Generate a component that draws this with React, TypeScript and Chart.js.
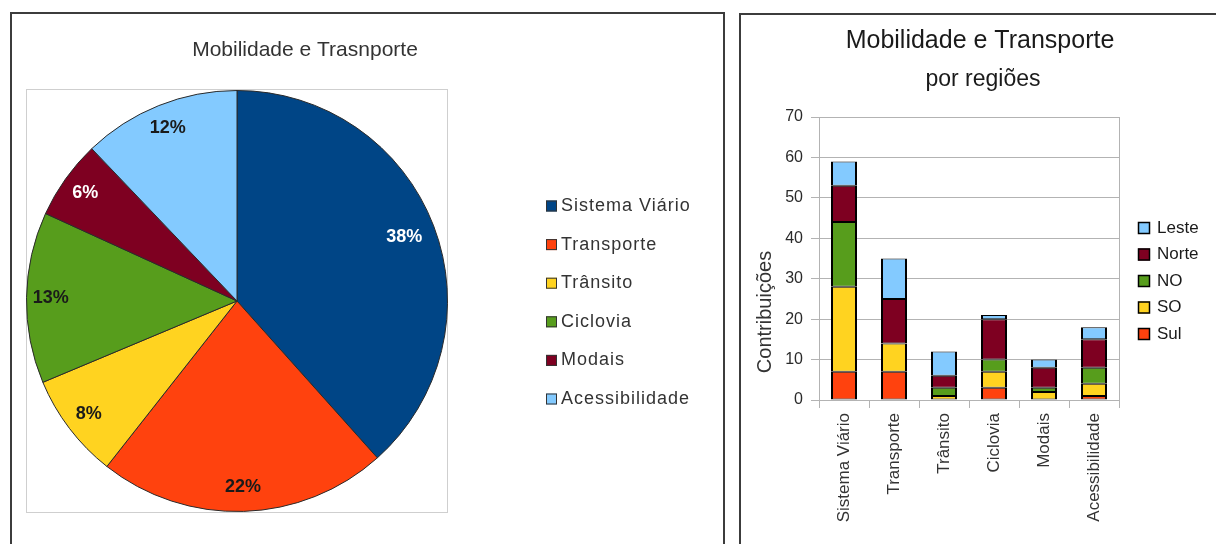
import React, { useEffect, useRef } from 'react';
import { Chart, registerables } from 'chart.js';
Chart.register(...registerables);

const FONT = "'Liberation Sans', Arial, Helvetica, sans-serif";

// ---- Left: pie chart ----
const pieTitle = 'Mobilidade e Trasnporte';
const pieLabels = ['Sistema Viário', 'Transporte', 'Trânsito', 'Ciclovia', 'Modais', 'Acessibilidade'];
const pieValues = [38, 22, 8, 13, 6, 12];
const pieColors = ['#004586', '#FF420E', '#FFD320', '#579D1C', '#7E0021', '#83CAFF'];
const pieLabelColors = ['#ffffff', '#1a1a1a', '#1a1a1a', '#1a1a1a', '#ffffff', '#1a1a1a'];

// ---- Right: stacked bars ----
const barTitle = 'Mobilidade e Transporte';
const barSubtitle = 'por regiões';
const barCategories = ['Sistema Viário', 'Transporte', 'Trânsito', 'Ciclovia', 'Modais', 'Acessibilidade'];
const yAxisTitle = 'Contribuições';
const yTicks = [0, 10, 20, 30, 40, 50, 60, 70];
const seriesNames = ['Sul', 'SO', 'NO', 'Norte', 'Leste'];
const sulValues = [7, 7, 0, 3, 0, 1];
const soValues = [21, 7, 1, 4, 2, 3];
const noValues = [16, 0, 2, 3, 1, 4];
const norteValues = [9, 11, 3, 10, 5, 7];
const lesteValues = [6, 10, 6, 1, 2, 3];
const seriesColors = ['#FF420E', '#FFD320', '#579D1C', '#7E0021', '#83CAFF'];

export default function App() {
  const pieRef = useRef<HTMLCanvasElement>(null);
  const barRef = useRef<HTMLCanvasElement>(null);

  useEffect(() => {
    Chart.defaults.font.family = FONT;

    const piePlugin = {
      id: 'pieDecor',
      beforeDraw(chart: any) {
        const ctx = chart.ctx;
        ctx.save();
        ctx.strokeStyle = '#cfcfcf';
        ctx.lineWidth = 1;
        ctx.strokeRect(26.5, 89.5, 421, 423);
        ctx.font = `21px ${FONT}`;
        ctx.fillStyle = '#333333';
        ctx.textAlign = 'center';
        ctx.textBaseline = 'middle';
        ctx.fillText(pieTitle, 305, 50);
        ctx.restore();
      },
      afterDatasetsDraw(chart: any) {
        const ctx = chart.ctx;
        const meta = chart.getDatasetMeta(0);
        const data = chart.data.datasets[0].data;
        meta.data.forEach((arc: any, i: number) => {
          const p = arc.getProps(['x', 'y', 'startAngle', 'endAngle', 'outerRadius'], true);
          const mid = (p.startAngle + p.endAngle) / 2;
          const r = p.outerRadius * (i === 0 ? 0.85 : 0.885);
          ctx.save();
          ctx.font = `bold 18px ${FONT}`;
          ctx.fillStyle = pieLabelColors[i];
          ctx.textAlign = 'center';
          ctx.textBaseline = 'middle';
          ctx.fillText(`${data[i]}%`, p.x + Math.cos(mid) * r, p.y + Math.sin(mid) * r);
          ctx.restore();
        });
        // legend
        const labels = chart.data.labels;
        const colors = chart.data.datasets[0].backgroundColor;
        labels.forEach((lab: string, i: number) => {
          const cy = 206 + i * 38.6;
          ctx.save();
          ctx.fillStyle = colors[i];
          ctx.fillRect(546, cy - 5.5, 11, 11);
          ctx.strokeStyle = '#333';
          ctx.lineWidth = 1;
          ctx.strokeRect(546.5, cy - 5, 10, 10);
          ctx.font = `18px ${FONT}`;
          (ctx as any).letterSpacing = '1px';
          ctx.fillStyle = '#333333';
          ctx.textAlign = 'left';
          ctx.textBaseline = 'middle';
          ctx.fillText(lab, 561, cy);
          ctx.restore();
        });
      },
    };

    const pie = new Chart(pieRef.current as HTMLCanvasElement, {
      type: 'pie',
      data: {
        labels: pieLabels,
        datasets: [
          {
            data: pieValues,
            backgroundColor: pieColors,
            borderColor: '#2a2a2a',
            borderWidth: 1,
          },
        ],
      },
      options: {
        responsive: false,
        animation: false,
        layout: { padding: { left: 26, right: 284, top: 90, bottom: 32 } },
        plugins: {
          legend: { display: false },
          title: { display: false },
          tooltip: { enabled: false },
        },
      },
      plugins: [piePlugin],
    } as any);

    const barPlugin = {
      id: 'barDecor',
      beforeDatasetsDraw(chart: any) {
        const ctx = chart.ctx;
        const a = chart.chartArea;
        ctx.save();
        ctx.strokeStyle = '#b3b3b3';
        ctx.lineWidth = 1;
        ctx.beginPath();
        ctx.moveTo(Math.round(a.right) + 0.5, a.top);
        ctx.lineTo(Math.round(a.right) + 0.5, a.bottom);
        ctx.stroke();
        ctx.restore();
      },
      afterDraw(chart: any) {
        const ctx = chart.ctx;
        ctx.save();
        ctx.fillStyle = '#1a1a1a';
        ctx.textAlign = 'center';
        ctx.textBaseline = 'middle';
        ctx.font = `25px ${FONT}`;
        ctx.fillText(barTitle, 239, 41);
        ctx.font = `23px ${FONT}`;
        ctx.fillText(barSubtitle, 242, 80);
        // y title
        ctx.save();
        ctx.translate(24, 312);
        ctx.rotate(-Math.PI / 2);
        ctx.font = `20px ${FONT}`;
        ctx.fillStyle = '#333333';
        ctx.fillText(yAxisTitle, 0, 0);
        ctx.restore();
        // legend (reverse order)
        const ds = chart.data.datasets;
        const order = ds.map((_: any, i: number) => i).reverse();
        order.forEach((di: number, k: number) => {
          const cy = 228 + k * 26.5;
          ctx.fillStyle = ds[di].backgroundColor;
          ctx.fillRect(397, cy - 6, 12, 12);
          ctx.strokeStyle = '#000';
          ctx.lineWidth = 1.5;
          ctx.strokeRect(397.5, cy - 5.5, 11, 11);
          ctx.font = `17px ${FONT}`;
          ctx.fillStyle = '#1a1a1a';
          ctx.textAlign = 'left';
          ctx.fillText(ds[di].label, 416, cy);
        });
        ctx.restore();
      },
    };

    const seriesData = [sulValues, soValues, noValues, norteValues, lesteValues];
    const bar = new Chart(barRef.current as HTMLCanvasElement, {
      type: 'bar',
      data: {
        labels: barCategories,
        datasets: seriesNames.map((name, i) => ({
          label: name,
          data: seriesData[i],
          backgroundColor: seriesColors[i],
          borderColor: '#000000',
          borderWidth: { left: 2, right: 2, top: 1, bottom: 1 },
          borderSkipped: false,
          inflateAmount: 0,
          barPercentage: 0.52,
          categoryPercentage: 1,
        })),
      },
      options: {
        responsive: false,
        animation: false,
        layout: { padding: { left: 0, right: 97, top: 117, bottom: 0 } },
        scales: {
          x: {
            stacked: true,
            grid: { offset: true, drawOnChartArea: false, drawTicks: true, tickLength: 8, color: '#b3b3b3' },
            border: { color: '#b3b3b3' },
            ticks: {
              minRotation: 90,
              maxRotation: 90,
              autoSkip: false,
              padding: 5,
              color: '#333333',
              font: { size: 17 },
            },
            afterFit: (s: any) => {
              s.height = 144;
            },
          },
          y: {
            stacked: true,
            min: yTicks[0],
            max: yTicks[yTicks.length - 1],
            ticks: { stepSize: 10, padding: 8, color: '#2a2a2a', font: { size: 16 } },
            grid: { color: '#b3b3b3', tickLength: 8 },
            border: { color: '#b3b3b3' },
            afterFit: (s: any) => {
              s.width = 78;
            },
          },
        },
        plugins: {
          legend: { display: false },
          title: { display: false },
          tooltip: { enabled: false },
        },
      },
      plugins: [barPlugin],
    } as any);

    return () => {
      pie.destroy();
      bar.destroy();
    };
  }, []);

  return (
    <div
      style={{
        position: 'absolute',
        left: 0,
        top: 0,
        width: 1216,
        height: 544,
        overflow: 'hidden',
        background: '#ffffff',
      }}
    >
      <div
        style={{
          position: 'absolute',
          left: 10,
          top: 12,
          width: 715,
          height: 600,
          border: '2px solid #3c3c3c',
          boxSizing: 'border-box',
        }}
      />
      <div
        style={{
          position: 'absolute',
          left: 739,
          top: 13,
          width: 600,
          height: 600,
          border: '2px solid #3c3c3c',
          boxSizing: 'border-box',
        }}
      />
      <canvas
        ref={pieRef}
        width={732}
        height={544}
        style={{ position: 'absolute', left: 0, top: 0, width: 732, height: 544 }}
      />
      <canvas
        ref={barRef}
        width={475}
        height={544}
        style={{ position: 'absolute', left: 741, top: 0, width: 475, height: 544 }}
      />
    </div>
  );
}
